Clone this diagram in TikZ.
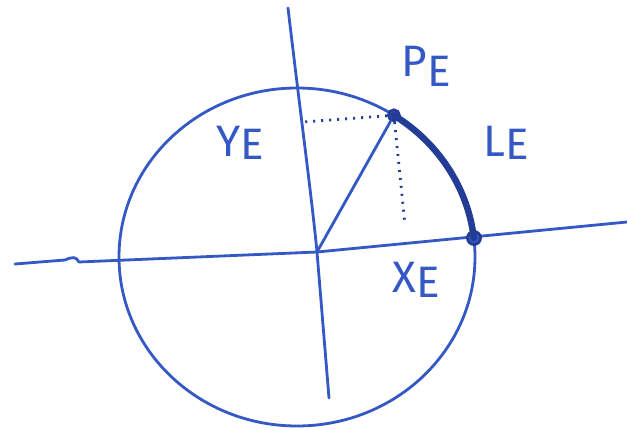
\documentclass[tikz,border=0pt]{standalone}
\usepackage{fontspec}
\setmainfont{Fira Sans}
\definecolor{pen}{RGB}{52,88,196}
\definecolor{pendark}{RGB}{35,60,150}
\begin{document}
\begin{tikzpicture}[x=1pt,y=-1pt,
  stroke/.style={draw=pen,line width=2.8pt,line cap=round,line join=round},
  dotline/.style={draw=pendark,line width=2.8pt,dash pattern=on 2pt off 6pt},
  dot/.style={circle,draw=pendark,fill=pen,line width=2.8pt,inner sep=0pt,minimum size=11pt},
  lab/.style={text=pen,font=\fontsize{44}{44}\selectfont,inner sep=0pt}]
\useasboundingbox (0,0) rectangle (627,430);
% axes
\coordinate (hL) at (15,264);
\coordinate (hR) at (627,222);
\coordinate (vT) at (288,8);
\coordinate (vB) at (329,398);
\coordinate (O) at (317,252);
\draw[stroke] (hL) -- (65,260) .. controls (72,257) and (76,256) .. (79,262) -- (O) -- (hR);
\draw[stroke] (vT) .. controls (300,110) and (312,200) .. (O) -- (vB);
% circle
\draw[stroke] (297,257) ellipse [x radius=178pt, y radius=169pt];
% points
\node[dot] (P) at (393.9,115.3) {};
\node[dot,minimum size=13pt] (Q) at (474,238) {};
% arc L_E
\draw[draw=pendark,line width=6.5pt,line cap=round] (P.center) arc[start angle=57, end angle=6.5, x radius=178pt, y radius=169pt];
% radius
\draw[stroke] (O) -- (P);
% projections
\coordinate (Py) at (303,122);
\coordinate (Px) at (405,225);
\draw[dotline] (P) -- (Py);
\draw[dotline] (P) -- (Px);
% labels
\node[lab] (lP) at (426,66) {P\raisebox{-10pt}{E}};
\node[lab] (lY) at (240,143) {Y\raisebox{-3pt}{E}};
\node[lab] (lL) at (506,143) {L\raisebox{-3pt}{E}};
\node[lab] (lX) at (416,280) {X\raisebox{-5pt}{E}};
\end{tikzpicture}
\end{document}
